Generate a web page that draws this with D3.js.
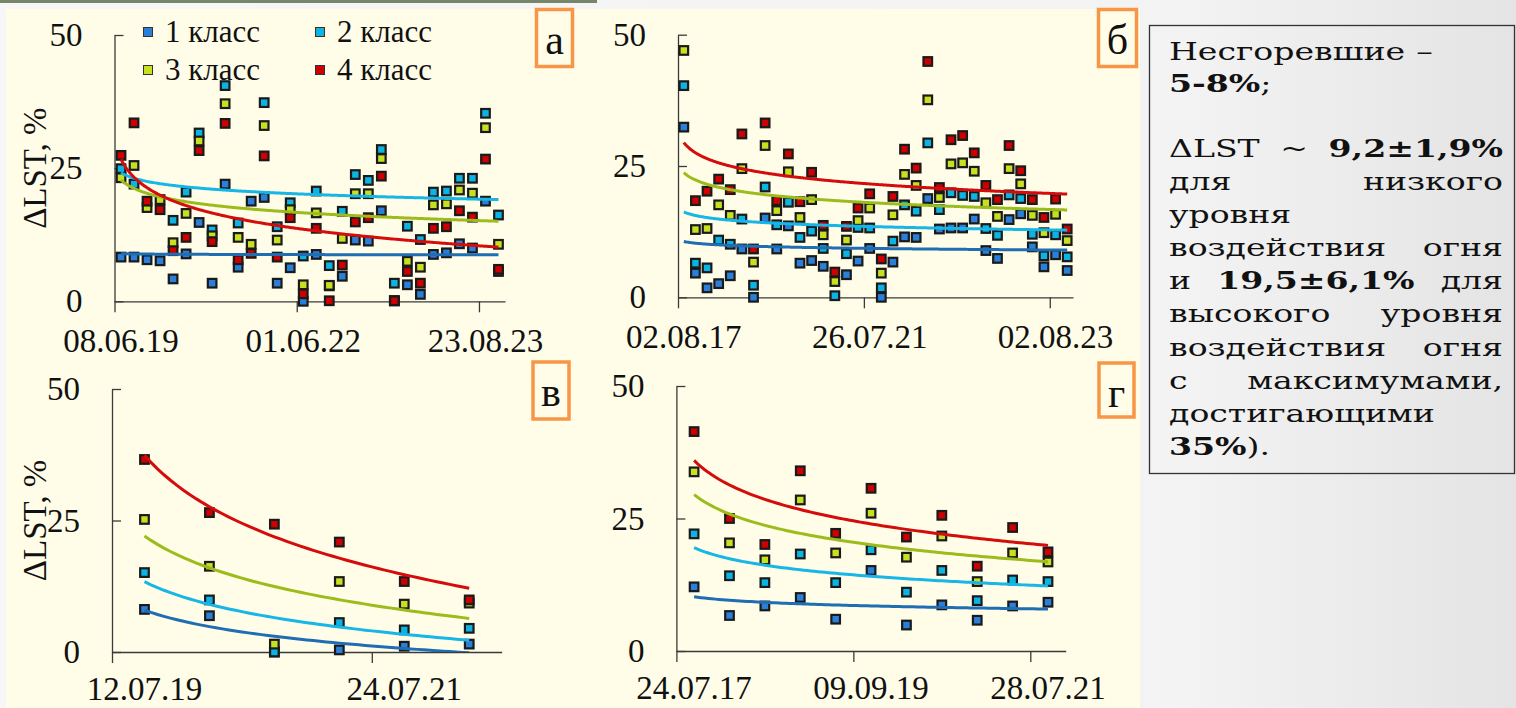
<!DOCTYPE html>
<html>
<head>
<meta charset="utf-8">
<script src="https://cdn.jsdelivr.net/npm/d3@7"></script>
<style>
  body { margin: 0; }
  #chart { width: 1516px; height: 708px; }
</style>
</head>
<body>
<div id="chart"></div>
<script>
/* global d3 */

var classNames = ["1 класс", "2 класс", "3 класс", "4 класс"];

/* panel a: 30 dates */
var aTickLabels = ["08.06.19", "01.06.22", "23.08.23"];
var aTickIdx = [0, 14, 28];
var aClass1 = [8.3, 8.3, 7.8, 7.6, 4.2, 8.9, 14.8, 3.4, 22.0, 6.4, 18.8, 19.5, 3.4, 6.3, 0, 8.8, 2.9, 4.7, 11.5, 11.3, 17.0, 0.1, 3.1, 1.3, 8.8, 9.1, 10.8, 10.0, 18.8, 5.6];
var aClass2 = [24.9, 22.0, null, null, 15.2, 20.5, 31.6, 13.4, 40.5, 14.7, null, 37.3, 14.0, 18.5, 8.5, 20.7, 6.7, 16.9, 23.8, 22.7, 28.5, 3.4, 14.1, 11.6, 20.5, 20.7, 23.1, 23.1, 35.3, 16.2];
var aClass3 = [23.2, 25.5, 17.6, 19.1, 11.0, 16.5, 30.1, 12.3, 37.1, 12.0, 10.7, 33.0, 11.5, 17.2, 3.1, 16.6, 3.0, 11.8, 20.2, 20.2, 26.8, 0.1, 7.5, 6.4, 18.1, 18.3, 20.9, 20.3, 32.6, 10.7];
var aClass4 = [27.4, 33.5, 18.8, 17.2, 9.5, 12.0, 28.3, 11.2, 33.4, 7.8, 9.0, 27.3, 8.3, 15.7, 1.4, 13.7, 0.1, 6.8, 14.9, 15.7, 23.5, 0.1, 5.6, 3.4, 13.7, 14.0, 17.0, 15.8, 26.7, 6.0];

/* panel б: 34 dates (first class-4 value lies above the 50 limit) */
var bTickLabels = ["02.08.17", "26.07.21", "02.08.23"];
var bTickIdx = [0, 16, 32];
var bClass1 = [32.4, 4.6, 1.8, 2.6, 4.1, 9.2, 0, 15.1, 9.2, 13.6, 6.5, 7.0, 5.9, null, 4.3, 6.9, 9.3, 0, 6.7, 11.5, 11.4, 18.8, 13.0, 13.2, 13.2, 14.9, 8.9, 7.4, 14.8, 15.9, 9.6, 5.8, 8.1, 5.1];
var bClass2 = [40.3, 6.5, 5.6, 10.9, 10.1, 14.9, 2.3, 21.0, 13.8, 18.1, 11.4, 12.6, 9.3, 0.3, 8.3, 13.3, 13.2, 1.8, 10.7, 17.6, 16.4, 29.4, 16.7, 19.9, 19.4, 19.2, 13.1, 11.8, 19.5, 18.8, 12.0, 7.9, 11.9, 7.7];
var bClass3 = [47.0, 12.9, 13.1, 17.6, 15.6, 24.5, 6.7, 28.9, 16.5, 23.9, 15.2, 18.6, 11.9, 3.0, 10.9, 14.6, 17.0, 4.6, 15.7, 23.4, 21.3, 37.6, 19.0, 25.4, 25.6, 24.0, 18.0, 15.4, 24.5, 21.6, 15.6, 12.3, 15.8, 10.8];
var bClass4 = [52.0, 18.4, 20.2, 22.5, 20.5, 31.1, 9.2, 33.2, 18.4, 27.3, 18.2, 23.8, 13.7, 4.8, 13.5, 17.0, 19.7, 7.3, 19.2, 28.2, 24.6, 44.9, 20.9, 30.0, 30.8, 27.5, 21.3, 18.6, 28.9, 24.1, 18.6, 15.2, 18.7, 13.0];

/* panel в: 6 dates */
var vTickLabels = ["12.07.19", "24.07.21"];
var vTickIdx = [0, 4];
var vClass1 = [8.1, 6.9, 0, 0.4, 1.1, 1.5];
var vClass2 = [15.1, 9.9, 0, 5.6, 4.2, 4.5];
var vClass3 = [25.2, 16.3, 1.5, 13.4, 9.1, 9.3];
var vClass4 = [36.6, 26.5, 24.3, 20.9, 13.4, 9.9];

/* panel г: 11 dates */
var gTickLabels = ["24.07.17", "09.09.19", "28.07.21"];
var gTickIdx = [0, 5, 10];
var gClass1 = [12.1, 6.7, 8.5, 10.1, 6.0, 15.2, 4.9, 8.7, 5.8, 8.5, 9.2];
var gClass2 = [22.1, 14.2, 12.9, 18.3, 12.9, 19.1, 11.1, 15.2, 9.5, 13.4, 13.1];
var gClass3 = [33.8, 20.4, 17.2, 28.5, 18.5, 26.0, 17.7, 21.7, 13.1, 18.5, 16.8];
var gClass4 = [41.4, 25.0, 20.1, 34.0, 22.2, 30.7, 21.5, 25.6, 16.0, 23.3, 18.7];

var yTicks = [0, 25, 50];

/* note on the right */
var noteLines = [
  "Несгоревшие –",
  "*5-8%*;",
  "",
  "ΔLST ~ *9,2±1,9%*",
  "для низкого",
  "уровня",
  "воздействия огня",
  "и *19,5±6,1%* для",
  "высокого уровня",
  "воздействия огня",
  "с максимумами,",
  "достигающими",
  "*35%*)."
];
var noteJustify = [false, false, false, true, true, false, true, true, true, true, true, false, false];

var markerColors = ["#2a7fd9", "#0bb4e3", "#c7e020", "#cc0000"];
var trendColors = ["#1f6db3", "#16b6e6", "#9cbc1c", "#d40c0c"];
var serif = "'Liberation Serif', 'Times New Roman', serif";

var W = 1516, H = 708;
var svg = d3.select("#chart").append("svg")
  .attr("width", W)
  .attr("height", H);

/* slide background */
var defs = svg.append("defs");
var bg = defs.append("linearGradient").attr("id", "bggrad")
  .attr("x1", "0").attr("x2", "1").attr("y1", "0").attr("y2", "0");
bg.append("stop").attr("offset", "0").attr("stop-color", "#f7f7f7");
bg.append("stop").attr("offset", "0.78").attr("stop-color", "#f3f3f3");
bg.append("stop").attr("offset", "1").attr("stop-color", "#e4e4e4");
svg.append("rect").attr("width", W).attr("height", H).attr("fill", "url(#bggrad)");
svg.append("rect").attr("x", 0).attr("y", 0).attr("width", 597).attr("height", 3).attr("fill", "#76866a");
svg.append("rect").attr("x", 6).attr("y", 9).attr("width", 1134).attr("height", H - 9).attr("fill", "#fffde8");

var panels = [
  { letter: "а", series: [aClass1, aClass2, aClass3, aClass4], tickIdx: aTickIdx, tickLabels: aTickLabels,
    left: 114.5, right: 505, top: 35, bottom: 301.3, labelDy: 51, box: [536.5, 9.5, 36, 57], yTitle: true, legend: true },
  { letter: "б", series: [bClass1, bClass2, bClass3, bClass4], tickIdx: bTickIdx, tickLabels: bTickLabels,
    left: 678, right: 1073, top: 34.7, bottom: 297.3, labelDy: 51, box: [1098.5, 9.5, 38, 57] },
  { letter: "в", series: [vClass1, vClass2, vClass3, vClass4], tickIdx: vTickIdx, tickLabels: vTickLabels,
    left: 112, right: 501.7, top: 389, bottom: 652, labelDy: 48, box: [533, 362, 36, 57], yTitle: true },
  { letter: "г", series: [gClass1, gClass2, gClass3, gClass4], tickIdx: gTickIdx, tickLabels: gTickLabels,
    left: 676.4, right: 1065.7, top: 386, bottom: 651, labelDy: 48, box: [1099, 363, 35, 54] }
];

/* Excel-like logarithmic trend: y = a + b*ln(x), x = 1..n */
function logFit(vals) {
  var pts = [];
  vals.forEach(function(v, i) {
    if (v != null) pts.push([Math.log(i + 1), v]);
  });
  var mx = d3.mean(pts, function(p) { return p[0]; });
  var my = d3.mean(pts, function(p) { return p[1]; });
  var sxy = d3.sum(pts, function(p) { return (p[0] - mx) * (p[1] - my); });
  var sxx = d3.sum(pts, function(p) { return (p[0] - mx) * (p[0] - mx); });
  var b = sxy / sxx;
  return { a: my - b * mx, b: b };
}

panels.forEach(function(p, pi) {
  var n = p.series[0].length;
  var x = d3.scaleLinear().domain([0, n]).range([p.left, p.right]);
  var y = d3.scaleLinear().domain([0, 50]).range([p.bottom, p.top]);
  var g = svg.append("g");

  defs.append("clipPath").attr("id", "clip" + pi)
    .append("rect")
    .attr("x", p.left).attr("y", p.top)
    .attr("width", p.right - p.left).attr("height", p.bottom - p.top);

  /* axes */
  var xAxis = g.append("g")
    .attr("transform", "translate(0," + p.bottom + ")")
    .call(d3.axisBottom(x).tickValues(p.tickIdx).tickFormat("").tickSize(11).tickSizeOuter(0));
  var yAxis = g.append("g")
    .attr("transform", "translate(" + p.left + ",0)")
    .call(d3.axisLeft(y).tickValues(yTicks).tickSize(-9).tickSizeOuter(0).tickPadding(32));
  [xAxis, yAxis].forEach(function(ax) {
    ax.selectAll("path, line").attr("stroke", "#3a3a3a").attr("stroke-width", 1.3);
  });
  yAxis.selectAll("text")
    .style("font-family", serif).style("font-size", "33px").attr("fill", "#111");

  g.selectAll(".xlab")
    .data(p.tickLabels)
    .enter().append("text")
    .attr("class", "xlab")
    .attr("x", function(d, i) { return x(p.tickIdx[i] + 0.5); })
    .attr("y", p.bottom + p.labelDy)
    .attr("text-anchor", "middle")
    .style("font-family", serif).style("font-size", "33px").attr("fill", "#111")
    .text(function(d) { return d; });

  if (p.yTitle) {
    g.append("text")
      .attr("transform", "translate(46," + (p.top + p.bottom) / 2 + ") rotate(-90)")
      .attr("text-anchor", "middle")
      .style("font-family", serif).style("font-size", "33px").attr("fill", "#111")
      .text("ΔLST, %");
  }

  /* markers, class 1 at the bottom of the stack; values above the axis maximum are not plotted */
  p.series.forEach(function(vals, si) {
    g.append("g").selectAll("rect")
      .data(vals.map(function(v, i) { return { i: i, v: v }; })
        .filter(function(d) { return d.v != null && d.v <= 50; }))
      .enter().append("rect")
      .attr("x", function(d) { return x(d.i + 0.5) - 4.3; })
      .attr("y", function(d) { return y(d.v) - 4.3; })
      .attr("width", 8.6).attr("height", 8.6)
      .attr("fill", markerColors[si])
      .attr("stroke", "#1a1a1a").attr("stroke-width", 2.2);
  });

  /* trend lines */
  var line = d3.line()
    .x(function(d) { return x(d[0] + 0.5); })
    .y(function(d) { return y(d[1]); });
  p.series.forEach(function(vals, si) {
    var fit = logFit(vals);
    var pts = d3.range(0, n - 1 + 1e-6, 0.1).map(function(t) {
      return [t, fit.a + fit.b * Math.log(t + 1)];
    });
    g.append("path")
      .attr("clip-path", "url(#clip" + pi + ")")
      .attr("d", line(pts))
      .attr("fill", "none")
      .attr("stroke", trendColors[si])
      .attr("stroke-width", 3);
  });

  /* panel letter */
  g.append("rect")
    .attr("x", p.box[0]).attr("y", p.box[1])
    .attr("width", p.box[2]).attr("height", p.box[3])
    .attr("fill", "none").attr("stroke", "#f79646").attr("stroke-width", 3.5);
  g.append("text")
    .attr("x", p.box[0] + p.box[2] / 2)
    .attr("y", p.box[1] + 44)
    .attr("text-anchor", "middle")
    .style("font-family", serif).style("font-size", "42px").attr("fill", "#111")
    .text(p.letter);

  /* legend */
  if (p.legend) {
    var lg = g.append("g").selectAll("g")
      .data(classNames)
      .enter().append("g")
      .attr("transform", function(d, i) {
        return "translate(" + (i % 2 ? 320 : 148) + "," + (i < 2 ? 32 : 70) + ")";
      });
    lg.append("rect")
      .attr("x", -4.5).attr("y", -4.5).attr("width", 9).attr("height", 9)
      .attr("fill", function(d, i) { return markerColors[i]; })
      .attr("stroke", "#333").attr("stroke-width", 1);
    lg.append("text")
      .attr("x", 17).attr("y", 10)
      .style("font-family", serif).style("font-size", "31px").attr("fill", "#111")
      .text(function(d) { return d; });
  }
});

/* note box */
svg.append("rect")
  .attr("x", 1149.5).attr("y", 25.5).attr("width", 365).attr("height", 448)
  .attr("fill", "none").attr("stroke", "#333").attr("stroke-width", 1.3);

var noteL = 1169, noteR = 1503;
var noteFont = "'DejaVu Serif', serif";
var noteG = svg.append("g");

/* horizontal stretch so the long word fills the same width as in the slide */
var probe = noteG.append("text").style("font-family", noteFont).style("font-size", "24px").text("достигающими");
var sx = 266 / probe.node().getComputedTextLength();
probe.remove();
noteG.attr("transform", "translate(" + noteL + ",0) scale(" + sx + ",1)");
var avail = (noteR - noteL) / sx;
var baseY = [60, 92, 0, 157, 190, 223, 256, 289, 322, 356, 389, 422, 455];

noteLines.forEach(function(ln, li) {
  if (!ln) return;
  var words = ln.split(" ").map(function(w) {
    var t = noteG.append("text")
      .attr("y", baseY[li])
      .style("font-family", noteFont).style("font-size", "24px").attr("fill", "#111");
    w.split("*").forEach(function(part, k) {
      if (part) t.append("tspan").style("font-weight", k % 2 ? "bold" : "normal").text(part);
    });
    return t;
  });
  var widths = words.map(function(t) { return t.node().getBBox().width; });
  var gap = 8;
  if (noteJustify[li] && words.length > 1) {
    gap = (avail - d3.sum(widths)) / (words.length - 1);
  }
  var cx = 0;
  words.forEach(function(t, k) {
    t.attr("x", cx);
    cx += widths[k] + gap;
  });
});
</script>
</body>
</html>
